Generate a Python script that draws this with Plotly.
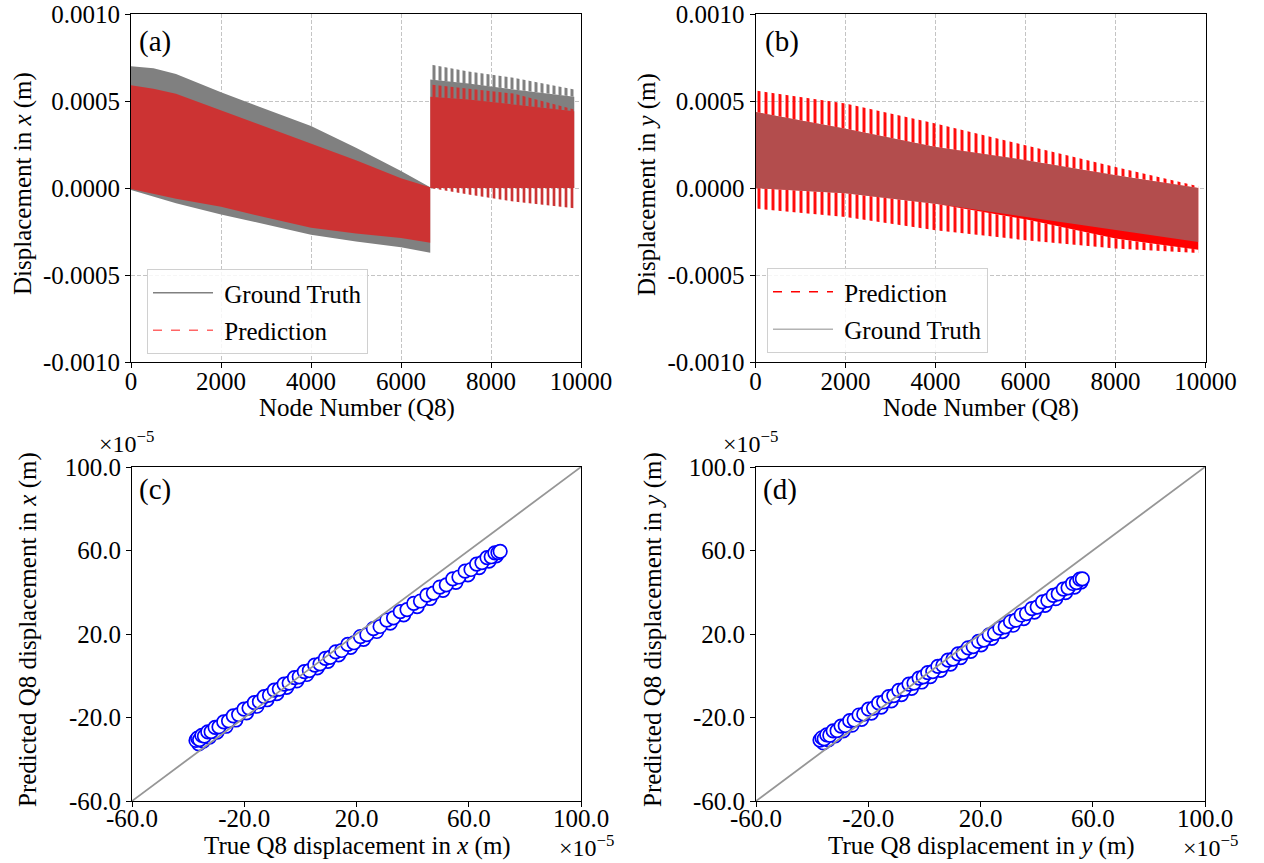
import plotly.graph_objects as go

FONT = "Liberation Serif"
W, H = 1264, 863

# ---------------- (a) displacement in x along the node numbering ----------------
# first block of the mesh (nodes 0 .. 6650)
a1_nodes = [0, 500, 1000, 2000, 3000, 4000, 5000, 6000, 6650]
a1_truth_top = [0.000700, 0.000688, 0.000655, 0.000550, 0.000452, 0.000356, 0.000232, 0.000098, 0.000005]
a1_truth_bot = [-0.000012, -0.000050, -0.000088, -0.000152, -0.000212, -0.000268, -0.000308, -0.000340, -0.000372]
a1_pred_top = [0.000590, 0.000570, 0.000542, 0.000446, 0.000350, 0.000255, 0.000160, 0.000056, 0.000005]
a1_pred_bot = [-0.000006, -0.000034, -0.000062, -0.000108, -0.000170, -0.000228, -0.000262, -0.000287, -0.000315]

# second block of the mesh (nodes 6650 .. 9850)
a2_nodes = [6650, 7500, 8500, 9850]
a2_truth_tip = [0.000710, 0.000670, 0.000633, 0.000566]
a2_truth_base = [0.000624, 0.000600, 0.000566, 0.000524]
a2_pred_tip = [0.000595, 0.000572, 0.000543, 0.000451]
a2_pred_base = [0.000524, 0.000509, 0.000480, 0.000441]
a2_floor = [0.0, 0.0, 0.0, 0.0]
a2_pred_low = [0.0, -0.000038, -0.000078, -0.000117]

# ---------------- (b) displacement in y along the node numbering ----------------
b_nodes = [0, 2000, 4000, 6000, 8000, 9840]
b_pred_tip_top = [0.000560, 0.000485, 0.000370, 0.000245, 0.000120, 0.000010]
b_truth_top = [0.000437, 0.000340, 0.000236, 0.000160, 0.000073, 0.000000]
b_truth_bot = [0.000000, -0.000030, -0.000090, -0.000167, -0.000240, -0.000310]
b_pred_body_bot = [0.000000, -0.000030, -0.000090, -0.000180, -0.000290, -0.000355]
b_pred_tip_bot = [-0.000118, -0.000167, -0.000243, -0.000300, -0.000347, -0.000373]

# ---------------- (c), (d) predicted vs true (units of 1e-5 m) ----------------
c_true = [-37.2, -36.6, -35.9, -35.1, -34.2, -33.0, -31.8, -30.4, -29.0, -27.3,
          -25.6, -23.9, -22.0, -20.1, -18.3, -16.4, -14.6, -12.9, -11.0, -9.3,
          -7.5, -5.8, -4.0, -2.1, -0.4, 1.4, 3.2, 5.1, 7.0, 8.9,
          10.6, 12.6, 14.7, 16.9, 19.1, 21.4, 23.7, 26.0, 28.4, 30.8,
          33.2, 35.6, 38.0, 40.4, 42.8, 45.1, 47.4, 49.7, 52.0, 54.3,
          56.5, 58.7, 60.8, 62.8, 64.7, 66.5, 68.0, 69.3, 70.4, 71.2]
c_pred = [-31.0, -29.9, -30.6, -28.6, -28.9, -26.9, -26.8, -24.7, -24.5, -22.1,
          -21.6, -19.2, -18.6, -16.0, -15.5, -12.9, -12.4, -10.0, -9.3, -6.9,
          -6.4, -4.0, -3.5, -0.9, -0.5, 2.0, 2.5, 5.1, 5.7, 8.3,
          8.8, 11.4, 12.1, 15.0, 15.8, 18.8, 19.7, 22.6, 23.6, 26.7,
          27.7, 30.7, 31.7, 34.7, 35.8, 38.6, 39.6, 42.5, 43.5, 46.4,
          47.3, 50.1, 50.9, 53.5, 54.2, 56.6, 57.0, 58.9, 59.0, 59.6]
# nodes whose true value repeats along the chain (second row of the band)
c_true_2 = [-36.2, -34.6, -32.4, -29.7, -26.5, -23.0, -19.2, -15.5, -11.9, -8.4,
            -4.9, -1.3, 2.3, 6.0, 9.8, 13.6, 17.9, 22.5, 27.2, 32.0,
            36.8, 41.6, 46.2, 50.8, 55.4, 59.7, 63.7, 67.2, 69.8]
c_pred_2 = [-32.6, -31.3, -29.4, -27.0, -24.2, -21.2, -17.8, -14.6, -11.5, -8.6,
            -5.6, -2.5, 0.6, 3.8, 6.9, 10.0, 13.6, 17.4, 21.2, 25.2,
            29.2, 33.1, 37.0, 40.9, 44.7, 48.3, 51.8, 54.9, 57.4]

d_true = [-37.2, -36.5, -35.7, -34.8, -33.7, -32.5, -31.1, -29.7, -28.2, -26.6,
          -25.0, -23.3, -21.6, -19.9, -18.1, -16.3, -14.5, -12.7, -10.9, -9.1,
          -7.3, -5.5, -3.7, -1.9, -0.4, 1.2, 3.0, 4.8, 6.6, 8.4,
          10.2, 12.0, 13.8, 15.6, 17.4, 19.3, 21.2, 23.1, 25.0, 26.9,
          28.8, 30.7, 32.6, 34.5, 36.4, 38.3, 40.2, 42.1, 44.0, 45.9,
          47.7, 49.5, 51.2, 52.8, 54.2, 55.4, 56.3]
d_pred = [-30.8, -29.7, -30.2, -28.3, -28.5, -26.4, -26.3, -24.1, -23.9, -21.5,
          -21.2, -18.8, -18.4, -16.0, -15.5, -13.0, -12.5, -10.0, -9.5, -7.0,
          -6.5, -4.0, -3.5, -1.1, -0.5, 1.5, 2.0, 4.5, 5.0, 7.5,
          8.0, 10.5, 11.0, 13.4, 14.0, 16.5, 17.1, 19.6, 20.3, 22.8,
          23.4, 25.9, 26.6, 29.1, 29.8, 32.2, 32.9, 35.4, 36.1, 38.5,
          39.2, 41.5, 42.1, 44.2, 44.6, 46.3, 46.4]
d_true_2 = [-36.0, -34.2, -31.8, -28.9, -25.8, -22.4, -18.9, -15.4, -11.8, -8.2,
            -4.6, -1.0, 2.1, 5.7, 9.3, 12.9, 16.5, 20.2, 24.0, 27.8,
            31.6, 35.4, 39.2, 43.0, 46.8, 50.3, 53.5, 55.8]
d_pred_2 = [-32.2, -30.7, -28.8, -26.4, -23.7, -20.9, -17.9, -15.0, -12.0, -9.0,
            -6.0, -3.0, -0.4, 2.6, 5.6, 8.7, 11.7, 14.8, 17.9, 21.1,
            24.2, 27.4, 30.5, 33.7, 36.9, 39.8, 42.5, 44.9]

identity_span = [-60, 100]

# ---------------- ticks ----------------
node_ticks = [0, 2000, 4000, 6000, 8000, 10000]
node_labels = ["0", "2000", "4000", "6000", "8000", "10000"]
disp_ticks = [-0.0010, -0.0005, 0.0, 0.0005, 0.0010]
disp_labels = ["-0.0010", "-0.0005", "0.0000", "0.0005", "0.0010"]
sc_ticks = [-60, -20, 20, 60, 100]
sc_labels = ["-60.0", "-20.0", "20.0", "60.0", "100.0"]

GRAY = "rgb(128,128,128)"
RED = "rgb(255,0,0)"
RED_A = "rgba(255,0,0,0.6)"
RED_ON_GRAY = "rgb(204,51,51)"
GRAY_A = "rgba(128,128,128,0.6)"

fig = go.Figure()


def band(nodes, upper, lower, ax, color, pattern=None):
    xs = list(nodes) + list(nodes)[::-1]
    ys = list(upper) + list(lower)[::-1]
    kw = dict(x=xs, y=ys, mode="lines", fill="toself", line=dict(width=0),
              hoverinfo="skip", showlegend=False,
              xaxis="x" + ax, yaxis="y" + ax)
    if pattern is None:
        kw["fillcolor"] = color
    else:
        size, solidity, opacity = pattern
        kw["fillcolor"] = "rgba(0,0,0,0)"
        kw["fillpattern"] = dict(shape="|", size=size, solidity=solidity,
                                 fgcolor=color, fgopacity=opacity, fillmode="replace")
    fig.add_trace(go.Scatter(**kw))


# (a): ground truth underneath, prediction drawn over it with alpha 0.6
band(a1_nodes, a1_truth_top, a1_truth_bot, "", GRAY)
band(a2_nodes, a2_truth_base, a2_floor, "", GRAY)
band(a2_nodes, a2_truth_tip, a2_truth_base, "", GRAY, pattern=(6, 0.5, 1.0))
band(a1_nodes, a1_pred_top, a1_pred_bot, "", RED_A)
band(a2_nodes, a2_pred_base, a2_floor, "", RED_A)
band(a2_nodes, a2_pred_tip, a2_pred_base, "", RED, pattern=(6, 0.5, 0.6))
band(a2_nodes, a2_floor, a2_pred_low, "", RED_ON_GRAY, pattern=(6, 0.45, 1.0))

# (b): prediction underneath, ground truth over it with alpha 0.6
band(b_nodes, b_truth_top, b_pred_body_bot, "2", RED)
band(b_nodes, b_pred_tip_top, b_truth_top, "2", RED, pattern=(7, 0.4, 1.0))
band(b_nodes, b_pred_body_bot, b_pred_tip_bot, "2", RED, pattern=(7, 0.4, 1.0))
band(b_nodes, b_truth_top, b_truth_bot, "2", GRAY_A)

# legend entries
NB = "\u00a0"
fig.add_trace(go.Scatter(x=[None], y=[None], mode="lines", name=NB + "Ground Truth",
                         line=dict(color=GRAY, width=1.5), legend="legend",
                         legendgroup="a1", xaxis="x", yaxis="y"))
fig.add_trace(go.Scatter(x=[None], y=[None], mode="lines", name=NB + "Prediction",
                         line=dict(color=RED_A, width=1.5, dash="dash"), legend="legend",
                         legendgroup="a2", xaxis="x", yaxis="y"))
fig.add_trace(go.Scatter(x=[None], y=[None], mode="lines", name=NB + "Prediction",
                         line=dict(color=RED, width=1.5, dash="dash"), legend="legend2",
                         legendgroup="b1", xaxis="x2", yaxis="y2"))
fig.add_trace(go.Scatter(x=[None], y=[None], mode="lines", name=NB + "Ground Truth",
                         line=dict(color=GRAY_A, width=1.5), legend="legend2",
                         legendgroup="b2", xaxis="x2", yaxis="y2"))

# (c), (d): scatter of predicted vs true with identity line
marker = dict(symbol="circle", size=13.5, color="white", line=dict(color="blue", width=1.7))
for chains, ax in [([(c_true_2, c_pred_2), (c_true, c_pred)], "3"),
                   ([(d_true_2, d_pred_2), (d_true, d_pred)], "4")]:
    for tx, py in chains:
        fig.add_trace(go.Scatter(x=tx, y=py, mode="markers", showlegend=False,
                                 marker=marker, xaxis="x" + ax, yaxis="y" + ax))
    fig.add_trace(go.Scatter(x=identity_span, y=identity_span, mode="lines",
                             showlegend=False, line=dict(color="rgb(150,150,150)", width=1.8),
                             xaxis="x" + ax, yaxis="y" + ax))

TICK = 25
tickfont = dict(family=FONT, size=TICK, color="black")
base_axis = dict(showline=True, mirror=True, linecolor="black", linewidth=1,
                 ticks="outside", ticklen=5, tickwidth=1, tickcolor="black",
                 tickfont=tickfont, zeroline=False, automargin=False)
grid = dict(showgrid=True, gridcolor="#c4c4c4", griddash="4px,2px", gridwidth=1)
nogrid = dict(showgrid=False)


def px_x(a, b):
    return [a / W, b / W]


def px_y(top, bottom):
    return [1 - bottom / H, 1 - top / H]


top_y = px_y(14, 362)
bot_y = px_y(467, 801)
legend_style = dict(xanchor="left", yanchor="top", bgcolor="rgba(255,255,255,0.85)",
                    bordercolor="#d0d0d0", borderwidth=1,
                    font=dict(family=FONT, size=25, color="black"), itemwidth=60,
                    tracegroupgap=2)

fig.update_layout(
    width=W, height=H, margin=dict(l=0, r=0, t=0, b=0, autoexpand=False),
    paper_bgcolor="white", plot_bgcolor="white",
    font=dict(family=FONT, color="black"),
    xaxis=dict(domain=px_x(131, 581), range=[0, 10000], tickvals=node_ticks,
               ticktext=node_labels, anchor="y", ticklabelstandoff=-8, **base_axis, **grid),
    yaxis=dict(domain=top_y, range=[-0.001, 0.001], tickvals=disp_ticks,
               ticktext=disp_labels, anchor="x", **base_axis, **grid),
    xaxis2=dict(domain=px_x(755.5, 1205.5), range=[0, 10000], tickvals=node_ticks,
                ticktext=node_labels, anchor="y2", ticklabelstandoff=-8, **base_axis, **grid),
    yaxis2=dict(domain=top_y, range=[-0.001, 0.001], tickvals=disp_ticks,
                ticktext=disp_labels, anchor="x2", **base_axis, **grid),
    xaxis3=dict(domain=px_x(132, 581), range=[-60, 100], tickvals=sc_ticks,
                ticktext=sc_labels, anchor="y3", ticklabelstandoff=-10, **base_axis, **nogrid),
    yaxis3=dict(domain=bot_y, range=[-60, 100], tickvals=sc_ticks,
                ticktext=sc_labels, anchor="x3", **base_axis, **nogrid),
    xaxis4=dict(domain=px_x(756, 1205), range=[-60, 100], tickvals=sc_ticks,
                ticktext=sc_labels, anchor="y4", ticklabelstandoff=-10, **base_axis, **nogrid),
    yaxis4=dict(domain=bot_y, range=[-60, 100], tickvals=sc_ticks,
                ticktext=sc_labels, anchor="x4", **base_axis, **nogrid),
    legend=dict(x=147 / W, y=1 - 269 / H, **legend_style),
    legend2=dict(x=767 / W, y=1 - 268 / H, **legend_style),
)

ann = []


def text(x, y, s, size=25, angle=0, xanchor="center", yanchor="middle"):
    ann.append(dict(x=x / W, y=1 - y / H, xref="paper", yref="paper", text=s,
                    showarrow=False, textangle=angle, xanchor=xanchor, yanchor=yanchor,
                    font=dict(family=FONT, size=size, color="black")))


# panel tags
text(137, 41, "(a)", 29, xanchor="left")
text(763, 41, "(b)", 29, xanchor="left")
text(137, 490, "(c)", 29, xanchor="left")
text(761, 490, "(d)", 29, xanchor="left")

# axis titles
text(357, 408, "Node Number (Q8)")
text(981, 408, "Node Number (Q8)")
text(23, 184, "Displacement in <i>x</i> (m)", angle=-90)
text(647, 184, "Displacement in <i>y</i> (m)", angle=-90)
text(357, 846, "True Q8 displacement in <i>x</i> (m)")
text(981, 846, "True Q8 displacement in <i>y</i> (m)")
text(28, 630, "Predicted Q8 displacement in <i>x</i> (m)", angle=-90)
text(653, 630, "Predicted Q8 displacement in <i>y</i> (m)", angle=-90)

# offset multipliers of the scatter axes
text(97, 442, "×10<sup>−5</sup>", 24, xanchor="left")
text(721, 442, "×10<sup>−5</sup>", 24, xanchor="left")
text(557, 846, "×10<sup>−5</sup>", 24, xanchor="left")
text(1181, 846, "×10<sup>−5</sup>", 24, xanchor="left")

fig.update_layout(annotations=ann)

fig.write_html("out.html")
